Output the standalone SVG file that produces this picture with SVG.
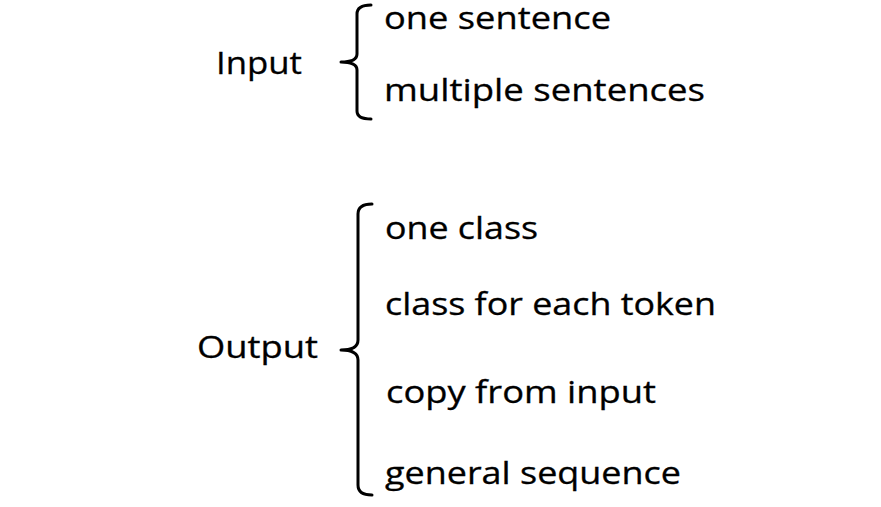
<svg xmlns="http://www.w3.org/2000/svg" width="881" height="507" viewBox="0 0 881 507">
<style>
.t{font-family:"Open Sans","Noto Sans","Liberation Sans",sans-serif;font-size:31px;fill:#000;stroke:#000;stroke-width:0.3}
.b{fill:none;stroke:#000;stroke-width:3;stroke-linecap:round;stroke-linejoin:round}
</style>
<rect width="881" height="507" fill="#fff"/>
<g id="input">
<text class="t" x="216" y="74" textLength="86" lengthAdjust="spacingAndGlyphs">Input</text>
</g>
<g id="output">
<text class="t" x="197" y="358" textLength="121" lengthAdjust="spacingAndGlyphs">Output</text>
</g>
<g id="one-sentence"><text class="t" x="384" y="29" textLength="227" lengthAdjust="spacingAndGlyphs">one sentence</text></g>
<g id="multiple-sentences"><text class="t" x="384" y="101" textLength="321" lengthAdjust="spacingAndGlyphs">multiple sentences</text></g>
<g id="one-class"><text class="t" x="385" y="239" textLength="153" lengthAdjust="spacingAndGlyphs">one class</text></g>
<g id="class-for-each-token"><text class="t" x="385" y="315" textLength="331" lengthAdjust="spacingAndGlyphs">class for each token</text></g>
<g id="copy-from-input"><text class="t" x="386" y="403" textLength="270" lengthAdjust="spacingAndGlyphs">copy from input</text></g>
<g id="general-sequence"><text class="t" x="385" y="484" textLength="296" lengthAdjust="spacingAndGlyphs">general sequence</text></g>
<g id="connectors">
<path class="b" d="M371,5 Q357,5 357,14 L357,54 Q357,62 341,62 Q357,62 357,70 L357,111 Q357,119 371,119"/>
<path class="b" d="M372,204 Q358,204 358,214 L358,340 Q358,350 341,350 Q358,350 358,360 L358,485 Q358,495 372,495"/>
</g>
</svg>
